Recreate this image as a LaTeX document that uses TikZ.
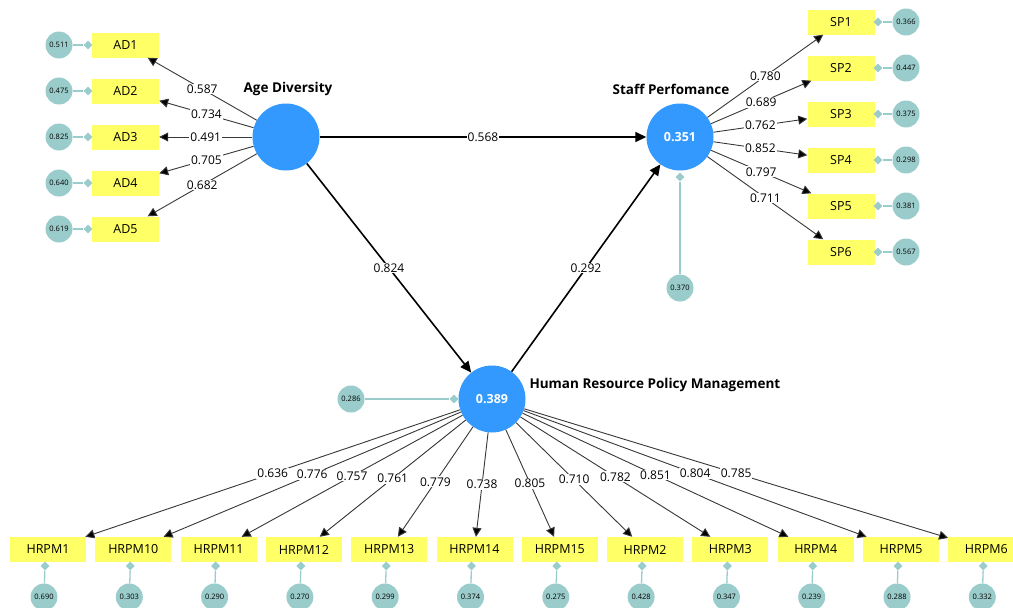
\documentclass[tikz,border=0pt]{standalone}
\usepackage{fontspec}
\setmainfont{Open Sans}
\usetikzlibrary{arrows.meta,shapes.geometric}
\definecolor{boxyellow}{RGB}{255,255,102}
\definecolor{lvblue}{RGB}{51,153,255}
\definecolor{errteal}{RGB}{154,204,203}
\definecolor{lnk}{RGB}{55,55,55}
\begin{document}
\begin{tikzpicture}[x=1pt,y=-1pt,
  ind/.style={rectangle,fill=boxyellow,minimum width=67pt,minimum height=25pt,inner sep=0pt,font=\fontsize{12.5}{12.5}\selectfont},
  hind/.style={ind,minimum width=76pt},
  lv/.style={circle,fill=lvblue,minimum size=67pt,inner sep=0pt,text=white,font=\fontsize{12.5}{12.5}\selectfont\bfseries},
  err/.style={circle,fill=errteal,minimum size=27pt,inner sep=0pt,font=\fontsize{7.5}{7.5}\selectfont},
  dia/.style={diamond,fill=errteal,minimum size=9pt,inner sep=0pt},
  errline/.style={draw=errteal,line width=1.3pt},
  load/.style={draw=lnk,line width=0.9pt,-{Triangle[length=9pt,width=9pt,fill=black]}},
  struct/.style={draw=black,line width=1.6pt,-{Triangle[length=11pt,width=10pt]}},
  lab/.style={fill=white,inner sep=1pt,font=\fontsize{12}{12}\selectfont},
  title/.style={font=\fontsize{13.5}{13.5}\selectfont\bfseries}]
\useasboundingbox (0,0) rectangle (1013,608);
% latent variables
\node[lv] (AD) at (286,137) {};
\node[lv] (SP) at (680,137) {0.351};
\node[lv] (HR) at (492,399) {0.389};
\node[title] (ADt) at (288,89) {Age Diversity};
\node[title] (SPt) at (671,89) {Staff Perfomance};
\node[title,anchor=west] (HRt) at (526,385) {Human Resource Policy Management};
% structural paths
\draw[struct] (AD) -- node[lab]{0.568} (SP);
\draw[struct] (AD) -- node[lab]{0.824} (HR);
\draw[struct] (HR) -- node[lab]{0.292} (SP);
% Age Diversity indicators
\foreach \n/\y/\l/\e in {1/45/0.587/0.511,2/91/0.734/0.475,3/137/0.491/0.825,4/183/0.705/0.640,5/229/0.682/0.619}{
  \node[ind] (AD\n) at (125.5,\y) {AD\n};
  \node[err] (ADe\n) at (59,\y) {\e};
  \node[dia] (ADd\n) at (88,\y) {};
  \draw[errline] (ADe\n) -- (ADd\n);
  \draw[load] (AD) -- node[lab]{\l} (AD\n);
}
% Staff Performance indicators
\foreach \n/\y/\l/\e in {1/22/0.780/0.366,2/68/0.689/0.447,3/114/0.762/0.375,4/160/0.852/0.298,5/206/0.797/0.381,6/252/0.711/0.567}{
  \node[ind] (SP\n) at (841,\y) {SP\n};
  \node[err] (SPe\n) at (906,\y) {\e};
  \node[dia] (SPd\n) at (878,\y) {};
  \draw[errline] (SPe\n) -- (SPd\n);
  \draw[load] (SP) -- node[lab]{\l} (SP\n);
}
% error terms of endogenous constructs
\node[err] (SPe) at (680,288) {0.370};
\node[dia] (SPd) at (680,177) {};
\draw[errline,line width=1.8pt] (SPe) -- (SPd);
\node[err] (HRe) at (351,399) {0.286};
\node[dia] (HRd) at (454,399) {};
\draw[errline,line width=1.8pt] (HRe) -- (HRd);
% HRPM indicators
\foreach \n/\x/\l/\e in {1/48/0.636/0.690,10/133.3/0.776/0.303,11/218.6/0.757/0.290,12/303.9/0.761/0.270,13/389.2/0.779/0.299,14/474.5/0.738/0.374,15/559.8/0.805/0.275,2/645.1/0.710/0.428,3/730.4/0.782/0.347,4/815.7/0.851/0.239,5/901/0.804/0.288,6/986.3/0.785/0.332}{
  \node[hind] (HRPM\n) at (\x,549.5) {HRPM\n};
  \node[err] (HRe\n) at (\x-4,597) {\e};
  \node[dia] (HRd\n) at (\x-3,566) {};
  \draw[errline] (HRe\n) -- (HRd\n);
  \draw[load] (HR) -- node[lab]{\l} (HRPM\n);
}
\end{tikzpicture}
\end{document}
